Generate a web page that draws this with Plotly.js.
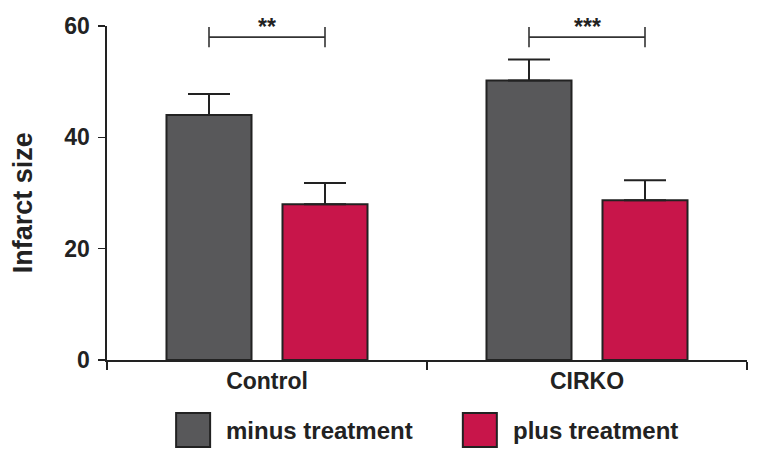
<!DOCTYPE html>
<html>
<head>
<meta charset="utf-8">
<script src="https://cdn.plot.ly/plotly-3.0.1.min.js"></script>
<style>html,body{margin:0;padding:0;background:#fff}#chart{width:761px;height:459px}</style>
</head>
<body>
<div id="chart"></div>
<script>
// ---- data ----
const categories = ["Control", "CIRKO"];
const seriesNames = ["minus treatment", "plus treatment"];
const minusValues = [44.0, 50.2];
const minusErrors = [3.8, 3.8];
const plusValues = [28.0, 28.7];
const plusErrors = [3.8, 3.6];
const significance = ["**", "***"];
const bracketLevel = 58;
const bracketTick = 1.8;
const yTicks = [0, 20, 40, 60];

// ---- styling ----
const gray = "#58585a";
const red = "#c8154a";
const ink = "#222222";
const font = "Liberation Sans, Arial, Helvetica, sans-serif";
const bargap = 0.275, bargroupgap = 0.267;
const slot = (1 - bargap) / 2;        // width of one bar slot in category units
const offset = slot / 2;              // centre offset of each bar from category centre

const errStyle = {type: "data", symmetric: false, thickness: 2, width: 21, color: ink};

const traces = [
  {type: "bar", name: seriesNames[0], x: categories, y: minusValues,
   marker: {color: gray, line: {color: ink, width: 2}},
   error_y: Object.assign({array: minusErrors, arrayminus: [0, 0]}, errStyle)},
  {type: "bar", name: seriesNames[1], x: categories, y: plusValues,
   marker: {color: red, line: {color: ink, width: 2}},
   error_y: Object.assign({array: plusErrors, arrayminus: [0, 0]}, errStyle)}
];

const shapes = [];
const annotations = [];
categories.forEach((c, i) => {
  const x0 = i - offset, x1 = i + offset;
  const ln = {color: "#333333", width: 1.6};
  shapes.push({type: "line", xref: "x", yref: "y", x0: x0, x1: x1, y0: bracketLevel, y1: bracketLevel, line: ln});
  shapes.push({type: "line", xref: "x", yref: "y", x0: x0, x1: x0, y0: bracketLevel - bracketTick, y1: bracketLevel + bracketTick, line: ln});
  shapes.push({type: "line", xref: "x", yref: "y", x0: x1, x1: x1, y0: bracketLevel - bracketTick, y1: bracketLevel + bracketTick, line: ln});
  annotations.push({xref: "x", yref: "y", x: i, y: bracketLevel, text: significance[i], showarrow: false,
    yanchor: "bottom", yshift: -5, font: {family: font, size: 23, weight: "bold", color: "#222"}});
});

// y-axis title
annotations.push({xref: "paper", yref: "paper", x: -0.131, y: 0.47, text: "Infarct size", textangle: -90,
  showarrow: false, xanchor: "center", yanchor: "middle", font: {family: font, size: 27, weight: "bold", color: ink}});

// manual legend (paper coords)
const legendItems = [{name: seriesNames[0], color: gray, x: 0.108}, {name: seriesNames[1], color: red, x: 0.556}];
const W = 640, H = 334;
legendItems.forEach(it => {
  const sq = 34 / W, sqh = 34 / H;
  const yc = -(430 - 360) / H;
  shapes.push({type: "rect", xref: "paper", yref: "paper", x0: it.x, x1: it.x + sq, y0: yc - sqh / 2, y1: yc + sqh / 2,
    fillcolor: it.color, line: {color: ink, width: 2}});
  annotations.push({xref: "paper", yref: "paper", x: it.x + sq + 14 / W, y: yc, text: it.name,
    showarrow: false, xanchor: "left", yanchor: "middle", font: {family: font, size: 24, weight: "bold", color: ink}});
});

const layout = {
  width: 761, height: 459,
  margin: {l: 107, r: 14, t: 26, b: 99},
  paper_bgcolor: "#fff", plot_bgcolor: "#fff",
  barmode: "group", bargap: bargap, bargroupgap: bargroupgap,
  showlegend: false,
  font: {family: font, color: ink},
  xaxis: {type: "category", range: [-0.5, 1.5], tickson: "boundaries", ticks: "outside", ticklen: 8, tickwidth: 1.6,
    tickcolor: ink, showline: true, linecolor: ink, linewidth: 1.6, showgrid: false, zeroline: false,
    tickfont: {family: font, size: 23, weight: "bold", color: ink}},
  yaxis: {range: [0, 60], tickvals: yTicks, ticks: "outside", ticklen: 7, tickwidth: 1.6, tickcolor: ink,
    showline: true, linecolor: ink, linewidth: 1.6, showgrid: false, zeroline: false, ticklabelstandoff: 4,
    tickfont: {family: font, size: 23, weight: "bold", color: ink}},
  shapes: shapes,
  annotations: annotations
};

Plotly.newPlot("chart", traces, layout, {displayModeBar: false, staticPlot: true});
</script>
</body>
</html>
